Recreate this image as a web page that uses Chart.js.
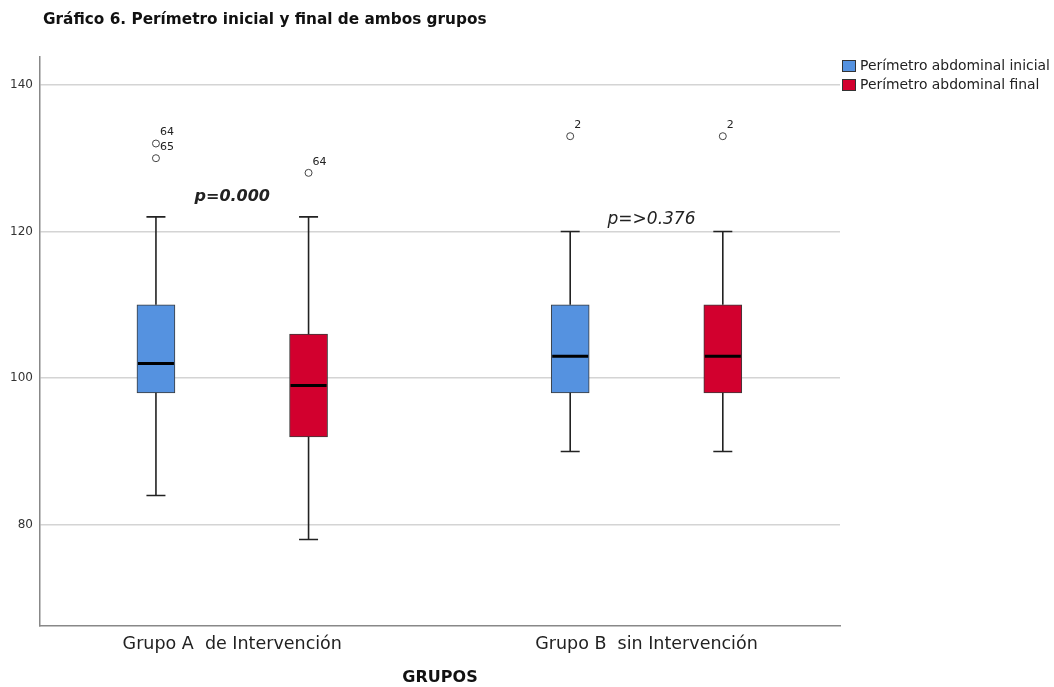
<!doctype html>
<html><head><meta charset="utf-8">
<title>Gráfico 6</title>
<script src="https://cdn.jsdelivr.net/npm/chart.js"></script>
<style>
  html, body { margin: 0; background: #fff; }
  #wrap { width: 1054px; height: 687px; position: relative; }
</style>
</head><body>
<div id="wrap"><canvas id="chart"></canvas></div>
<script>
// categories + series
const groups = ['Grupo A  de Intervención', 'Grupo B  sin Intervención'];
const seriesNames = ['Perímetro abdominal inicial', 'Perímetro abdominal final'];
const seriesColors = ['#5592e0', '#d2002e'];

// box stats per group (inicial)
const inicialLow = [84, 90];
const inicialQ1 = [98, 98];
const inicialMedian = [102, 103];
const inicialQ3 = [110, 110];
const inicialHigh = [122, 120];
// box stats per group (final)
const finalLow = [78, 90];
const finalQ1 = [92, 98];
const finalMedian = [99, 103];
const finalQ3 = [106, 110];
const finalHigh = [122, 120];

// outliers: group, series, value, case number
const outlierGroup = [0, 0, 0, 1, 1];
const outlierSeries = [0, 0, 1, 0, 1];
const outlierValue = [132, 130, 128, 133, 133];
const outlierCase = ['64', '65', '64', '2', '2'];

const pLabels = ['p=0.000', 'p=>0.376'];
const yTicks = [80, 100, 120, 140];

const chartTitle = 'Gráfico 6. Perímetro inicial y final de ambos grupos';
const xTitle = 'GRUPOS';

// layout stuff
const FONT = 'DejaVu Sans';
const SHIFT = 0.1842;           // box offset from group centre (x units)
const posOf = (g, s) => g + 1 + (s === 0 ? -SHIFT : SHIFT);

const stats = [
  { low: inicialLow, q1: inicialQ1, med: inicialMedian, q3: inicialQ3, high: inicialHigh },
  { low: finalLow, q1: finalQ1, med: finalMedian, q3: finalQ3, high: finalHigh }
];

const boxSets = stats.map((st, s) => ({
  type: 'bar',
  label: seriesNames[s],
  data: groups.map((g, i) => ({ x: posOf(i, s), y: [st.q1[i], st.q3[i]] })),
  backgroundColor: seriesColors[s],
  borderColor: '#3a3a3a',
  borderWidth: 1,
  borderSkipped: false,
  barThickness: 38,
  grouped: false
}));

const outlierSet = {
  type: 'scatter',
  label: 'outliers',
  data: outlierValue.map((v, i) => ({ x: posOf(outlierGroup[i], outlierSeries[i]), y: v })),
  pointStyle: 'circle',
  pointRadius: 3.5,
  pointBackgroundColor: '#fff',
  pointBorderColor: '#444',
  pointBorderWidth: 1
};

const extras = {
  id: 'boxExtras',
  afterDatasetsDraw(chart) {
    const ctx = chart.ctx, y = chart.scales.y;
    ctx.save();
    stats.forEach((st, s) => {
      chart.getDatasetMeta(s).data.forEach((bar, i) => {
        const x = bar.x, w = bar.width;
        const pTop = y.getPixelForValue(st.q3[i]);
        const pBot = y.getPixelForValue(st.q1[i]);
        const pHi = y.getPixelForValue(st.high[i]);
        const pLo = y.getPixelForValue(st.low[i]);
        ctx.strokeStyle = '#222';
        ctx.lineWidth = 1.6;
        ctx.beginPath();
        ctx.moveTo(x, pTop); ctx.lineTo(x, pHi);
        ctx.moveTo(x - w / 4, pHi); ctx.lineTo(x + w / 4, pHi);
        ctx.moveTo(x, pBot); ctx.lineTo(x, pLo);
        ctx.moveTo(x - w / 4, pLo); ctx.lineTo(x + w / 4, pLo);
        ctx.stroke();
        const pMed = y.getPixelForValue(st.med[i]);
        ctx.strokeStyle = '#000';
        ctx.lineWidth = 3;
        ctx.beginPath();
        ctx.moveTo(x - w / 2 + 1, pMed); ctx.lineTo(x + w / 2 - 1, pMed);
        ctx.stroke();
      });
    });
    ctx.restore();
  },
  afterDraw(chart) {
    const ctx = chart.ctx, x = chart.scales.x, y = chart.scales.y;
    ctx.save();
    // title
    ctx.fillStyle = '#111';
    ctx.font = 'bold 15.3px "' + FONT + '"';
    ctx.textBaseline = 'middle';
    ctx.textAlign = 'left';
    ctx.fillText(chartTitle, 43, 20.5);

    // legend
    ctx.font = '13.9px "' + FONT + '"';
    seriesNames.forEach((n, s) => {
      const ly = 60 + s * 19;
      ctx.fillStyle = seriesColors[s];
      ctx.fillRect(842, ly, 14, 12);
      ctx.strokeStyle = '#333';
      ctx.lineWidth = 1;
      ctx.strokeRect(842.5, ly + 0.5, 13, 11);
      ctx.fillStyle = '#222';
      ctx.fillText(n, 860, ly + 6);
    });

    // outlier case labels
    ctx.font = '11px "' + FONT + '"';
    ctx.fillStyle = '#222';
    chart.getDatasetMeta(2).data.forEach((pt, i) => {
      ctx.fillText(outlierCase[i], pt.x + 4, pt.y - 11);
    });

    // p values
    ctx.textAlign = 'center';
    ctx.font = 'italic bold 16px "' + FONT + '"';
    ctx.fillText(pLabels[0], x.getPixelForValue(1), y.getPixelForValue(124.7));
    ctx.font = 'italic 17px "' + FONT + '"';
    ctx.fillText(pLabels[1], x.getPixelForValue(2) + 5, y.getPixelForValue(121.6));
    ctx.restore();
  }
};

new Chart(document.getElementById('chart'), {
  type: 'bar',
  data: { datasets: [...boxSets, outlierSet] },
  options: {
    responsive: true,
    maintainAspectRatio: false,
    animation: false,
    layout: { padding: { left: 0, top: 57, right: 214, bottom: 0 } },
    plugins: { legend: { display: false }, tooltip: { enabled: false }, title: { display: false } },
    scales: {
      x: {
        type: 'linear',
        offset: false,
        min: 0.5359,
        max: 2.4671,
        afterFit: (sc) => { sc.height = 61; },
        afterBuildTicks: (sc) => { sc.ticks = groups.map((g, i) => ({ value: i + 1 })); },
        ticks: {
          autoSkip: false,
          maxRotation: 0,
          padding: 8,
          color: '#222',
          font: { family: FONT, size: 17.5 },
          callback: (v, i) => groups[i]
        },
        grid: { display: false, drawTicks: false },
        border: { display: true, color: '#888', width: 1.5 },
        title: { display: true, text: xTitle, color: '#111', padding: { top: 0, bottom: 0 }, font: { family: FONT, size: 16, weight: 'bold' } }
      },
      y: {
        min: 66.2,
        max: 143.8,
        afterFit: (sc) => { sc.width = 40; },
        afterBuildTicks: (sc) => { sc.ticks = yTicks.map(v => ({ value: v })); },
        ticks: { padding: 7, color: '#333', font: { family: FONT, size: 12 } },
        grid: { color: '#d4d4d4', lineWidth: 1.5, drawTicks: false },
        border: { display: true, color: '#888', width: 1.5 }
      }
    }
  },
  plugins: [extras]
});
</script>
</body></html>
